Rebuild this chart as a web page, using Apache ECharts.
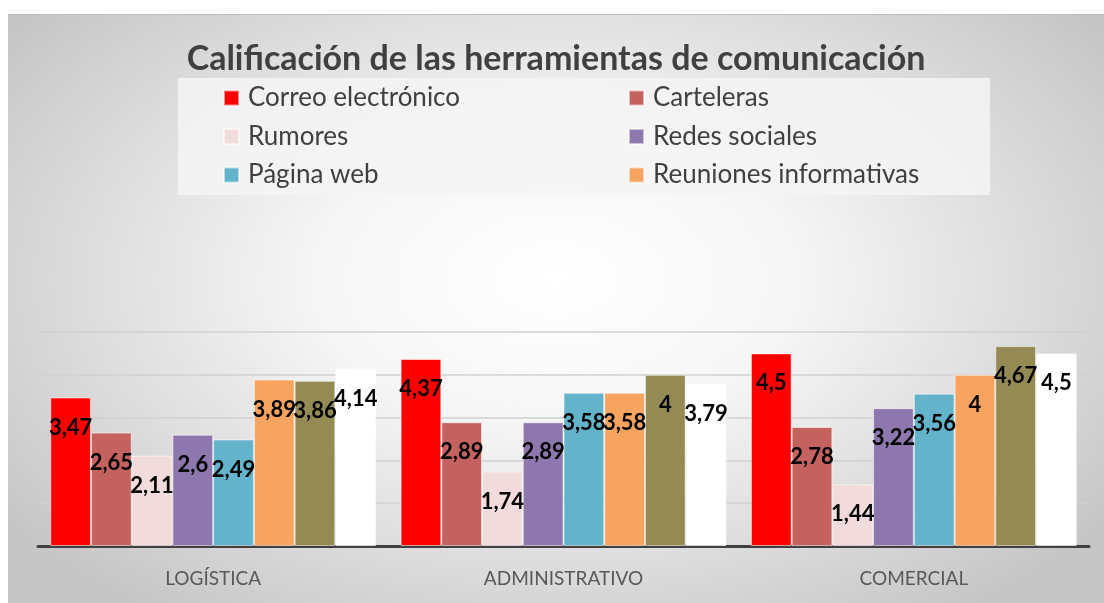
<!DOCTYPE html>
<html lang="es">
<head>
    <meta charset="utf-8">
    <title>Calificación de las herramientas de comunicación</title>
    <script src="https://cdn.jsdelivr.net/npm/echarts@6/dist/echarts.min.js"></script>
    <style>
        html, body { margin: 0; padding: 0; background: #fff; }
        #chart {
            position: absolute; left: 8px; top: 14px; width: 1096px; height: 589px;
            border-top: 1px solid #bcbcbc;
            box-sizing: border-box;
            background: radial-gradient(ellipse 62% 70% at 50% 45%, #ffffff 0%, #f6f6f6 35%, #c6c6c6 100%);
        }
    </style>
</head>
<body>
<div id="chart"></div>
<script type="text/javascript">
    // datos
    var categorias = ['LOGÍSTICA', 'ADMINISTRATIVO', 'COMERCIAL'];
    var correo     = [3.47, 4.37, 4.5];
    var carteleras = [2.65, 2.89, 2.78];
    var rumores    = [2.11, 1.74, 1.44];
    var redes      = [2.6, 2.89, 3.22];
    var paginaWeb  = [2.49, 3.58, 3.56];
    var reuniones  = [3.89, 3.58, 4];
    var serie7     = [3.86, 4, 4.67];
    var serie8     = [4.14, 3.79, 4.5];

    var legendaIzq = ['Correo electrónico', 'Rumores', 'Página web'];
    var legendaDer = ['Carteleras', 'Redes sociales', 'Reuniones informativas'];

    var fuente = 'Lato';

    function etiqueta(p) {
        return String(p.value).replace('.', ',');
    }

    function serieBarra(nombre, datos, color) {
        return {
            name: nombre,
            type: 'bar',
            data: datos,
            barGap: '0%',
            barCategoryGap: '7%',
            itemStyle: {
                color: color,
                borderColor: 'rgba(255,255,255,0.55)',
                borderWidth: 1
            },
            label: {
                show: true,
                position: 'insideTop',
                distance: 19,
                formatter: etiqueta,
                color: '#000',
                fontFamily: fuente,
                fontWeight: 'bold',
                fontSize: 22
            }
        };
    }

    var myChart = echarts.init(document.getElementById('chart'));

    var legendaComun = {
        orient: 'vertical',
        top: 70,
        padding: 0,
        itemWidth: 15,
        itemHeight: 15,
        itemGap: 12.5,
        icon: 'rect',
        selectedMode: false,
        textStyle: {
            fontFamily: fuente,
            fontSize: 26,
            lineHeight: 26,
            color: '#404040',
            padding: [0, 0, 0, 4]
        }
    };

    var option = {
        backgroundColor: 'transparent',
        title: {
            text: 'Calificación de las herramientas de comunicación',
            left: 'center',
            top: 22,
            textStyle: {
                fontFamily: fuente,
                fontWeight: 'bold',
                fontSize: 34,
                color: '#404040'
            }
        },
        graphic: [{
            type: 'rect',
            z: 1,
            shape: { x: 170, y: 63, width: 812, height: 117 },
            style: { fill: 'rgba(245,245,245,0.85)' }
        }],
        legend: [
            Object.assign({}, legendaComun, { left: 215, data: legendaIzq }),
            Object.assign({}, legendaComun, { left: 620, data: legendaDer })
        ],
        grid: {
            left: 30,
            right: 15,
            top: 317,
            bottom: 57
        },
        xAxis: {
            type: 'category',
            data: categorias,
            axisTick: { show: false },
            axisLine: { lineStyle: { color: '#404040', width: 3 } },
            axisLabel: {
                margin: 23,
                fontFamily: fuente,
                fontSize: 19,
                color: '#595959'
            }
        },
        yAxis: {
            type: 'value',
            min: 0,
            max: 5,
            interval: 1,
            axisLabel: { show: false },
            axisLine: { show: false },
            axisTick: { show: false },
            splitLine: { lineStyle: { color: '#d0d0d0', width: 1.5 } }
        },
        series: [
            serieBarra('Correo electrónico', correo, '#FF0000'),
            serieBarra('Carteleras', carteleras, '#C4625F'),
            serieBarra('Rumores', rumores, '#F2DCDB'),
            serieBarra('Redes sociales', redes, '#8E77AD'),
            serieBarra('Página web', paginaWeb, '#63B4CB'),
            serieBarra('Reuniones informativas', reuniones, '#F6A45F'),
            serieBarra('Serie 7', serie7, '#948A54'),
            serieBarra('Serie 8', serie8, '#FFFFFF')
        ]
    };

    myChart.setOption(option);
</script>
</body>
</html>
